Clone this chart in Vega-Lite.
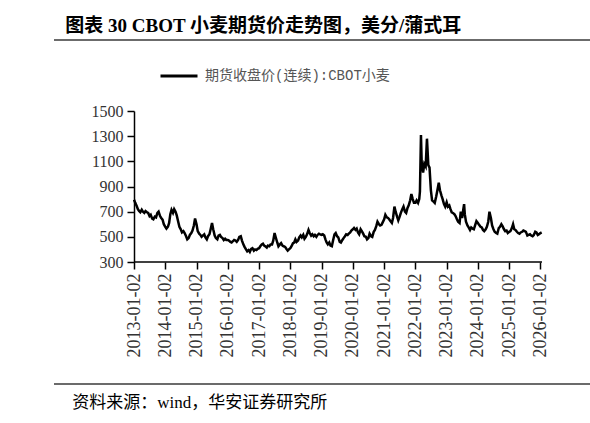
{
  "$schema": "https://vega.github.io/schema/vega-lite/v6.json",
  "background": "#ffffff",
  "padding": {"left": 53, "top": 17, "right": 0, "bottom": 0},
  "spacing": 15,
  "resolve": {"scale": {"color": "independent"}, "legend": {"color": "independent"}},
  "datasets": {
    "wheat": [
      {"date": "2013-01-02", "price": 795}, {"date": "2013-01-16", "price": 770}, {"date": "2013-02-02", "price": 745}, {"date": "2013-02-16", "price": 720},
      {"date": "2013-03-02", "price": 705}, {"date": "2013-03-16", "price": 695}, {"date": "2013-04-02", "price": 715}, {"date": "2013-04-16", "price": 700},
      {"date": "2013-05-02", "price": 690}, {"date": "2013-05-16", "price": 705}, {"date": "2013-06-02", "price": 695}, {"date": "2013-06-16", "price": 690},
      {"date": "2013-07-02", "price": 665}, {"date": "2013-07-16", "price": 675}, {"date": "2013-08-02", "price": 645}, {"date": "2013-08-16", "price": 640},
      {"date": "2013-09-02", "price": 660}, {"date": "2013-09-16", "price": 655}, {"date": "2013-10-02", "price": 690}, {"date": "2013-10-16", "price": 700},
      {"date": "2013-11-02", "price": 665}, {"date": "2013-11-16", "price": 650}, {"date": "2013-12-02", "price": 635}, {"date": "2013-12-16", "price": 600},
      {"date": "2014-01-02", "price": 580}, {"date": "2014-01-16", "price": 565}, {"date": "2014-02-02", "price": 580}, {"date": "2014-02-16", "price": 610},
      {"date": "2014-03-02", "price": 680}, {"date": "2014-03-16", "price": 715}, {"date": "2014-04-02", "price": 690}, {"date": "2014-04-16", "price": 720},
      {"date": "2014-05-02", "price": 700}, {"date": "2014-05-16", "price": 670}, {"date": "2014-06-02", "price": 620}, {"date": "2014-06-16", "price": 580},
      {"date": "2014-07-02", "price": 560}, {"date": "2014-07-16", "price": 535}, {"date": "2014-08-02", "price": 545}, {"date": "2014-08-16", "price": 530},
      {"date": "2014-09-02", "price": 505}, {"date": "2014-09-16", "price": 480}, {"date": "2014-10-02", "price": 490}, {"date": "2014-10-16", "price": 515},
      {"date": "2014-11-02", "price": 530}, {"date": "2014-11-16", "price": 550}, {"date": "2014-12-02", "price": 590}, {"date": "2014-12-16", "price": 645},
      {"date": "2015-01-02", "price": 600}, {"date": "2015-01-16", "price": 545}, {"date": "2015-02-02", "price": 525}, {"date": "2015-02-16", "price": 515},
      {"date": "2015-03-02", "price": 500}, {"date": "2015-03-16", "price": 510}, {"date": "2015-04-02", "price": 520}, {"date": "2015-04-16", "price": 495},
      {"date": "2015-05-02", "price": 480}, {"date": "2015-05-16", "price": 505}, {"date": "2015-06-02", "price": 520}, {"date": "2015-06-16", "price": 560},
      {"date": "2015-07-02", "price": 610}, {"date": "2015-07-16", "price": 560}, {"date": "2015-08-02", "price": 510}, {"date": "2015-08-16", "price": 490},
      {"date": "2015-09-02", "price": 480}, {"date": "2015-09-16", "price": 510}, {"date": "2015-10-02", "price": 515}, {"date": "2015-10-16", "price": 500},
      {"date": "2015-11-02", "price": 490}, {"date": "2015-11-16", "price": 475}, {"date": "2015-12-02", "price": 485}, {"date": "2015-12-16", "price": 475},
      {"date": "2016-01-02", "price": 475}, {"date": "2016-01-16", "price": 470}, {"date": "2016-02-02", "price": 460}, {"date": "2016-02-16", "price": 455},
      {"date": "2016-03-02", "price": 465}, {"date": "2016-03-16", "price": 475}, {"date": "2016-04-02", "price": 470}, {"date": "2016-04-16", "price": 460},
      {"date": "2016-05-02", "price": 475}, {"date": "2016-05-16", "price": 500}, {"date": "2016-06-02", "price": 505}, {"date": "2016-06-16", "price": 470},
      {"date": "2016-07-02", "price": 440}, {"date": "2016-07-16", "price": 420}, {"date": "2016-08-02", "price": 400}, {"date": "2016-08-16", "price": 385},
      {"date": "2016-09-02", "price": 395}, {"date": "2016-09-16", "price": 380}, {"date": "2016-10-02", "price": 405}, {"date": "2016-10-16", "price": 410},
      {"date": "2016-11-02", "price": 390}, {"date": "2016-11-16", "price": 400}, {"date": "2016-12-02", "price": 395}, {"date": "2016-12-16", "price": 405},
      {"date": "2017-01-02", "price": 410}, {"date": "2017-01-16", "price": 425}, {"date": "2017-02-02", "price": 440}, {"date": "2017-02-16", "price": 445},
      {"date": "2017-03-02", "price": 430}, {"date": "2017-03-16", "price": 425}, {"date": "2017-04-02", "price": 415}, {"date": "2017-04-16", "price": 430},
      {"date": "2017-05-02", "price": 425}, {"date": "2017-05-16", "price": 440}, {"date": "2017-06-02", "price": 440}, {"date": "2017-06-16", "price": 470},
      {"date": "2017-07-02", "price": 530}, {"date": "2017-07-16", "price": 495}, {"date": "2017-08-02", "price": 455}, {"date": "2017-08-16", "price": 425},
      {"date": "2017-09-02", "price": 440}, {"date": "2017-09-16", "price": 450}, {"date": "2017-10-02", "price": 430}, {"date": "2017-10-16", "price": 425},
      {"date": "2017-11-02", "price": 420}, {"date": "2017-11-16", "price": 405}, {"date": "2017-12-02", "price": 390}, {"date": "2017-12-16", "price": 400},
      {"date": "2018-01-02", "price": 410}, {"date": "2018-01-16", "price": 425}, {"date": "2018-02-02", "price": 450}, {"date": "2018-02-16", "price": 455},
      {"date": "2018-03-02", "price": 480}, {"date": "2018-03-16", "price": 460}, {"date": "2018-04-02", "price": 470}, {"date": "2018-04-16", "price": 495},
      {"date": "2018-05-02", "price": 510}, {"date": "2018-05-16", "price": 495}, {"date": "2018-06-02", "price": 515}, {"date": "2018-06-16", "price": 485},
      {"date": "2018-07-02", "price": 500}, {"date": "2018-07-16", "price": 520}, {"date": "2018-08-02", "price": 555}, {"date": "2018-08-16", "price": 530},
      {"date": "2018-09-02", "price": 510}, {"date": "2018-09-16", "price": 520}, {"date": "2018-10-02", "price": 505}, {"date": "2018-10-16", "price": 515},
      {"date": "2018-11-02", "price": 500}, {"date": "2018-11-16", "price": 515}, {"date": "2018-12-02", "price": 525}, {"date": "2018-12-16", "price": 520},
      {"date": "2019-01-02", "price": 515}, {"date": "2019-01-16", "price": 520}, {"date": "2019-02-02", "price": 510}, {"date": "2019-02-16", "price": 480},
      {"date": "2019-03-02", "price": 455}, {"date": "2019-03-16", "price": 440}, {"date": "2019-04-02", "price": 455}, {"date": "2019-04-16", "price": 430},
      {"date": "2019-05-02", "price": 425}, {"date": "2019-05-16", "price": 470}, {"date": "2019-06-02", "price": 520}, {"date": "2019-06-16", "price": 530},
      {"date": "2019-07-02", "price": 505}, {"date": "2019-07-16", "price": 495}, {"date": "2019-08-02", "price": 460}, {"date": "2019-08-16", "price": 455},
      {"date": "2019-09-02", "price": 475}, {"date": "2019-09-16", "price": 490}, {"date": "2019-10-02", "price": 505}, {"date": "2019-10-16", "price": 520},
      {"date": "2019-11-02", "price": 515}, {"date": "2019-11-16", "price": 525}, {"date": "2019-12-02", "price": 535}, {"date": "2019-12-16", "price": 550},
      {"date": "2020-01-02", "price": 560}, {"date": "2020-01-16", "price": 570}, {"date": "2020-02-02", "price": 555}, {"date": "2020-02-16", "price": 565},
      {"date": "2020-03-02", "price": 535}, {"date": "2020-03-16", "price": 520}, {"date": "2020-04-02", "price": 560}, {"date": "2020-04-16", "price": 545},
      {"date": "2020-05-02", "price": 525}, {"date": "2020-05-16", "price": 505}, {"date": "2020-06-02", "price": 500}, {"date": "2020-06-16", "price": 480},
      {"date": "2020-07-02", "price": 490}, {"date": "2020-07-16", "price": 525}, {"date": "2020-08-02", "price": 505}, {"date": "2020-08-16", "price": 500},
      {"date": "2020-09-02", "price": 540}, {"date": "2020-09-16", "price": 555}, {"date": "2020-10-02", "price": 585}, {"date": "2020-10-16", "price": 620},
      {"date": "2020-11-02", "price": 600}, {"date": "2020-11-16", "price": 590}, {"date": "2020-12-02", "price": 595}, {"date": "2020-12-16", "price": 615},
      {"date": "2021-01-02", "price": 640}, {"date": "2021-01-16", "price": 675}, {"date": "2021-02-02", "price": 655}, {"date": "2021-02-16", "price": 650},
      {"date": "2021-03-02", "price": 640}, {"date": "2021-03-16", "price": 625}, {"date": "2021-04-02", "price": 610}, {"date": "2021-04-16", "price": 650},
      {"date": "2021-05-02", "price": 740}, {"date": "2021-05-16", "price": 700}, {"date": "2021-06-02", "price": 660}, {"date": "2021-06-16", "price": 630},
      {"date": "2021-07-02", "price": 660}, {"date": "2021-07-16", "price": 690}, {"date": "2021-08-02", "price": 720}, {"date": "2021-08-16", "price": 740},
      {"date": "2021-09-02", "price": 700}, {"date": "2021-09-16", "price": 690}, {"date": "2021-10-02", "price": 730}, {"date": "2021-10-16", "price": 750},
      {"date": "2021-11-02", "price": 790}, {"date": "2021-11-16", "price": 840}, {"date": "2021-12-02", "price": 800}, {"date": "2021-12-16", "price": 770},
      {"date": "2022-01-02", "price": 770}, {"date": "2022-01-16", "price": 790}, {"date": "2022-02-02", "price": 770}, {"date": "2022-02-16", "price": 800},
      {"date": "2022-02-24", "price": 860}, {"date": "2022-03-08", "price": 1310}, {"date": "2022-03-16", "price": 1100}, {"date": "2022-04-02", "price": 1010},
      {"date": "2022-04-16", "price": 1080}, {"date": "2022-05-02", "price": 1060}, {"date": "2022-05-17", "price": 1280}, {"date": "2022-06-02", "price": 1070},
      {"date": "2022-06-16", "price": 1050}, {"date": "2022-07-02", "price": 870}, {"date": "2022-07-16", "price": 790}, {"date": "2022-08-02", "price": 780},
      {"date": "2022-08-16", "price": 770}, {"date": "2022-09-02", "price": 820}, {"date": "2022-09-16", "price": 870}, {"date": "2022-10-02", "price": 930},
      {"date": "2022-10-16", "price": 870}, {"date": "2022-11-02", "price": 830}, {"date": "2022-11-16", "price": 800}, {"date": "2022-12-02", "price": 760},
      {"date": "2022-12-16", "price": 740},
      {"date": "2023-01-02", "price": 775}, {"date": "2023-01-16", "price": 740}, {"date": "2023-02-02", "price": 750}, {"date": "2023-02-16", "price": 720},
      {"date": "2023-03-02", "price": 695}, {"date": "2023-03-16", "price": 690}, {"date": "2023-04-02", "price": 680}, {"date": "2023-04-16", "price": 665},
      {"date": "2023-05-02", "price": 640}, {"date": "2023-05-16", "price": 620}, {"date": "2023-06-02", "price": 610}, {"date": "2023-06-16", "price": 700},
      {"date": "2023-07-02", "price": 650}, {"date": "2023-07-16", "price": 720}, {"date": "2023-07-25", "price": 760}, {"date": "2023-08-02", "price": 680},
      {"date": "2023-08-16", "price": 620}, {"date": "2023-09-02", "price": 590}, {"date": "2023-09-16", "price": 575}, {"date": "2023-10-02", "price": 555},
      {"date": "2023-10-16", "price": 575}, {"date": "2023-11-02", "price": 565}, {"date": "2023-11-16", "price": 560}, {"date": "2023-12-02", "price": 595},
      {"date": "2023-12-16", "price": 625},
      {"date": "2024-01-02", "price": 610}, {"date": "2024-01-16", "price": 595}, {"date": "2024-02-02", "price": 580}, {"date": "2024-02-16", "price": 575},
      {"date": "2024-03-02", "price": 555}, {"date": "2024-03-16", "price": 545}, {"date": "2024-04-02", "price": 560}, {"date": "2024-04-16", "price": 580},
      {"date": "2024-05-02", "price": 620}, {"date": "2024-05-16", "price": 700}, {"date": "2024-06-02", "price": 650}, {"date": "2024-06-16", "price": 590},
      {"date": "2024-07-02", "price": 560}, {"date": "2024-07-16", "price": 540}, {"date": "2024-08-02", "price": 530}, {"date": "2024-08-16", "price": 525},
      {"date": "2024-09-02", "price": 570}, {"date": "2024-09-16", "price": 580}, {"date": "2024-10-02", "price": 600}, {"date": "2024-10-16", "price": 585},
      {"date": "2024-11-02", "price": 560}, {"date": "2024-11-16", "price": 545}, {"date": "2024-12-02", "price": 550}, {"date": "2024-12-16", "price": 530},
      {"date": "2025-01-02", "price": 540}, {"date": "2025-01-16", "price": 545}, {"date": "2025-02-02", "price": 570}, {"date": "2025-02-16", "price": 600},
      {"date": "2025-03-02", "price": 560}, {"date": "2025-03-16", "price": 555}, {"date": "2025-04-02", "price": 540}, {"date": "2025-04-16", "price": 530},
      {"date": "2025-05-02", "price": 525}, {"date": "2025-05-16", "price": 535}, {"date": "2025-06-02", "price": 540}, {"date": "2025-06-16", "price": 550},
      {"date": "2025-07-02", "price": 545}, {"date": "2025-07-16", "price": 540}, {"date": "2025-08-02", "price": 510}, {"date": "2025-08-16", "price": 515},
      {"date": "2025-09-02", "price": 520}, {"date": "2025-09-16", "price": 510}, {"date": "2025-10-02", "price": 505}, {"date": "2025-10-16", "price": 515},
      {"date": "2025-11-02", "price": 540}, {"date": "2025-11-16", "price": 535}, {"date": "2025-12-02", "price": 515}, {"date": "2025-12-16", "price": 520},
      {"date": "2026-01-02", "price": 530}, {"date": "2026-01-16", "price": 535}
    ]
  },
  "vconcat": [
    {
      "width": 537,
      "height": 2,
      "data": {"values": [{}]},
      "title": {
        "text": "图表 30 CBOT 小麦期货价走势图，美分/蒲式耳",
        "anchor": "start",
        "dx": 12,
        "offset": 2,
        "fontSize": 19,
        "fontWeight": "bold",
        "font": "Liberation Serif, Noto Sans CJK SC",
        "color": "#000000"
      },
      "mark": {"type": "rule", "color": "#3a3a3a", "strokeWidth": 1.5},
      "encoding": {
        "x": {"datum": 0, "type": "quantitative", "scale": {"domain": [0, 1]}, "axis": null},
        "x2": {"datum": 1},
        "y": {"datum": 0, "type": "quantitative", "scale": {"domain": [0, 1]}, "axis": null}
      }
    },
    {
      "width": 488,
      "height": 151,
      "resolve": {"axis": {"x": "independent", "y": "independent"}},
      "layer": [
        {
          "data": {"name": "wheat"},
          "mark": {"type": "line", "color": "#000000", "strokeWidth": 2.5},
          "encoding": {
            "x": {
              "field": "date",
              "type": "temporal",
              "scale": {"type": "utc", "domain": [{"year": 2010, "month": 6, "date": 12, "utc": true}, {"year": 2026, "month": 1, "date": 20, "utc": true}]},
              "axis": {
                "title": null,
                "domain": false,
                "format": "%Y-%m-%d",
                "labelAngle": 270,
                "labelFontSize": 18,
                "labelPadding": 4,
                "labelOverlap": false,
                "labelFlush": false,
                "tickSize": 7,
                "values": [
                  {"year": 2013, "month": 1, "date": 2, "utc": true}, {"year": 2014, "month": 1, "date": 2, "utc": true},
                  {"year": 2015, "month": 1, "date": 2, "utc": true}, {"year": 2016, "month": 1, "date": 2, "utc": true},
                  {"year": 2017, "month": 1, "date": 2, "utc": true}, {"year": 2018, "month": 1, "date": 2, "utc": true},
                  {"year": 2019, "month": 1, "date": 2, "utc": true}, {"year": 2020, "month": 1, "date": 2, "utc": true},
                  {"year": 2021, "month": 1, "date": 2, "utc": true}, {"year": 2022, "month": 1, "date": 2, "utc": true},
                  {"year": 2023, "month": 1, "date": 2, "utc": true}, {"year": 2024, "month": 1, "date": 2, "utc": true},
                  {"year": 2025, "month": 1, "date": 2, "utc": true}, {"year": 2026, "month": 1, "date": 2, "utc": true}
                ]
              }
            },
            "y": {
              "field": "price",
              "type": "quantitative",
              "scale": {"domain": [300, 1500], "nice": false, "zero": false},
              "axis": {
                "title": null,
                "offset": -80,
                "format": "d",
                "labelOverlap": false,
                "values": [300, 500, 700, 900, 1100, 1300, 1500],
                "labelFontSize": 16,
                "labelPadding": 4,
                "tickSize": 7
              }
            },
            "color": {
              "datum": "期货收盘价(连续):CBOT小麦",
              "scale": {"range": ["#000000"]},
              "legend": {
                "orient": "top",
                "direction": "horizontal",
                "title": " ",
                "titleOrient": "left",
                "titleFontSize": 10,
                "titlePadding": 105,
                "symbolType": "stroke",
                "symbolStrokeWidth": 3,
                "symbolSize": 1369,
                "labelFont": "Liberation Mono, Noto Sans CJK SC",
                "labelFontSize": 14,
                "labelColor": "#555555",
                "labelLimit": 400,
                "labelOffset": 6,
                "offset": 28
              }
            }
          }
        },
        {
          "data": {"values": [{}]},
          "mark": {"type": "rule", "color": "#000000", "strokeWidth": 1.5},
          "encoding": {
            "x": {"datum": {"year": 2013, "month": 1, "date": 2, "utc": true}, "type": "temporal", "axis": null},
            "x2": {"datum": {"year": 2026, "month": 1, "date": 20, "utc": true}},
            "y": {"datum": 300, "type": "quantitative", "axis": null}
          }
        }
      ]
    },
    {
      "width": 537,
      "height": 12,
      "data": {"values": [{}]},
      "title": {
        "text": "资料来源：wind，华安证券研究所",
        "orient": "bottom",
        "anchor": "start",
        "dx": 19,
        "offset": 10,
        "fontSize": 17,
        "fontWeight": "normal",
        "font": "Liberation Serif, Noto Sans CJK SC",
        "color": "#000000"
      },
      "mark": {"type": "rule", "color": "#3a3a3a", "strokeWidth": 1.5},
      "encoding": {
        "x": {"datum": 0, "type": "quantitative", "scale": {"domain": [0, 1]}, "axis": null},
        "x2": {"datum": 1},
        "y": {"datum": 0, "type": "quantitative", "scale": {"domain": [0, 1]}, "axis": null}
      }
    }
  ],
  "config": {
    "view": {"stroke": null},
    "font": "Liberation Serif",
    "axis": {
      "grid": false,
      "labelOverlap": false,
      "labelFont": "Liberation Serif",
      "labelColor": "#333333",
      "domainColor": "#000000",
      "domainWidth": 1.5,
      "tickColor": "#000000",
      "tickWidth": 1.5
    }
  }
}
